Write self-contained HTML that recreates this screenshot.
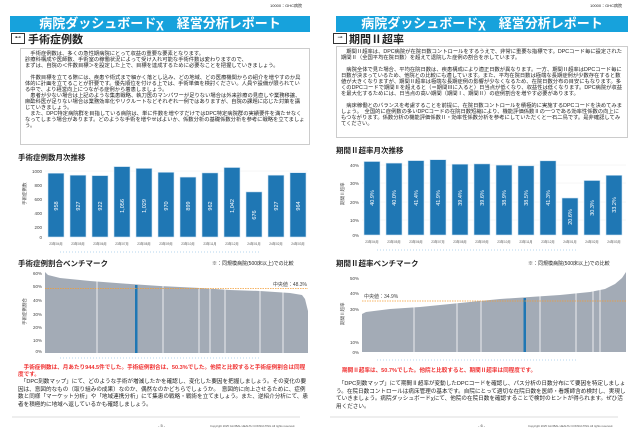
<!DOCTYPE html>
<html><head><meta charset="utf-8"><style>
body{margin:0;width:640px;height:437px;background:#fff;position:relative;overflow:hidden;font-family:"Liberation Sans","Noto Sans CJK JP",sans-serif;color:#222}
.a{position:absolute;white-space:nowrap}
.hdr{position:absolute;height:16px;background:#17a2dc;color:#fff;font-size:13px;font-weight:bold;text-align:center;line-height:16px}
.box{position:absolute;border:1px solid #ccc;font-size:5.3px;line-height:6px;padding:2px 4px;box-sizing:border-box;white-space:normal}
.tt{position:absolute;font-size:7.5px;font-weight:bold;white-space:nowrap}
.st{position:absolute;font-size:11px;font-weight:bold;white-space:nowrap}
.p{position:absolute;font-size:5.6px;line-height:8px;white-space:normal}
</style></head><body>
<div class="a" style="left:270px;top:3px;font-size:4px">10000：GHC病院</div>
<div class="a" style="left:590px;top:3px;font-size:4px">10000：GHC病院</div>
<div class="hdr" style="left:10px;top:16px;width:300px">病院ダッシュボードχ　経営分析レポート</div>
<div class="hdr" style="left:336px;top:16px;width:292px">病院ダッシュボードχ　経営分析レポート</div>
<div class="a" style="left:11px;top:33px;width:12px;height:9px;border:1px solid #333;font-size:6px;text-align:center;line-height:9px">⊷</div>
<div class="st" style="left:28px;top:31px">手術症例数</div>
<div class="a" style="left:333px;top:33px;width:12px;height:9px;border:1px solid #333;font-size:6px;text-align:center;line-height:9px">⊸</div>
<div class="st" style="left:349px;top:31px">期間Ⅱ超率</div>
<div class="box" style="left:20px;top:48px;width:290px;height:97px">　手術症例数は、多くの急性期病院にとって収益の重要な要素となります。<br>診療科構成や医師数、手術室の稼働状況によって受け入れ可能な手術件数は変わりますので、<br>まずは、自院の＜件数目標＞を設定した上で、目標を達成するために必要なことを把握していきましょう。<br><br>　件数目標を立てる際には、疾患や術式まで細かく落とし込み、どの地域、どの医療機関からの紹介を増やすのか具体的に計画を立てることが肝要です。優先順位を付ける上では、手術単価を検討ください。人員や設備が限られている中で、より経営向上につながる症例から着患しましょう。<br>　患者が少ない場合は上記のような集患戦略、執刀医のマンパワーが足りない場合は外来診療の見直しや業務移譲、麻酔科医が足りない場合は業務効率化やリクルートなどそれぞれ一例ではありますが、自院の課題に応じた対策を講じていきましょう。<br>　また、DPC特定病院群を目指している病院は、単に件数を増やすだけではDPC特定病院群の実績要件を満たせなくなってしまう場合があります。どのような手術を増やせばよいか、係数分析の基礎係数分析を参考に戦略を立てましょう。</div>
<div class="box" style="left:336px;top:46px;width:292px;height:92px">　期間Ⅱ超率は、DPC病院が在院日数コントロールをするうえで、非常に重要な指標です。DPCコード毎に設定された期間Ⅱ（全国平均在院日数）を超えて退院した症例の割合を示しています。<br><br>　病院全体で見た場合、平均在院日数は、疾患構成により適正日数が異なります。一方、期間Ⅱ超率はDPCコード毎に日数が決まっているため、他院との比較にも適しています。また、平均在院日数は極端な長期症例が少数存在すると数値が大きくなりますが、期間Ⅱ超率は極端な長期症例の影響が少なくなるため、在院日数分布の目安にもなります。多くのDPCコードで期間Ⅱを超えると（＝期間Ⅲに入ると）日当点が低くなり、収益性は低くなります。DPC病院が収益を最大化するためには、日当点の高い期間（期間Ⅰ、期間Ⅱ）の症例割合を増やす必要があります。<br><br>　病床稼働とのバランスを考慮することを前提に、在院日数コントロールを積極的に実施するDPCコードを決めてみましょう。　全国的に症例数の多いDPCコードの在院日数短縮により、機能評価係数Ⅱの一つである効率性係数の向上にもつながります。係数分析の機能評価係数Ⅱ・効率性係数分析を参考にしていただくと一石二鳥です。是非確認してみてください。</div>
<div class="tt" style="left:18px;top:152px">手術症例数月次推移</div>
<div class="tt" style="left:336px;top:145px">期間Ⅱ超率月次推移</div>
<div class="tt" style="left:18px;top:258px">手術症例割合ベンチマーク</div>
<div class="tt" style="left:336px;top:258px">期間Ⅱ超率ベンチマーク</div>
<div class="a" style="left:212px;top:260px;font-size:5px">※：同規模病院(500床以上)での比較</div>
<div class="a" style="left:528px;top:260px;font-size:5px">※：同規模病院(500床以上)での比較</div>
<svg class="a" style="left:0;top:0" width="640" height="437" font-family="Liberation Sans, Noto Sans CJK JP, sans-serif">
<g font-size="4.5" fill="#444" text-anchor="end">
<text x="42" y="173">1000</text><text x="42" y="187">800</text><text x="42" y="201">600</text><text x="42" y="215">400</text><text x="42" y="229">200</text><text x="42" y="239">0</text>
<text x="359" y="167">40%</text><text x="359" y="185">30%</text><text x="359" y="204">20%</text><text x="359" y="222">10%</text><text x="359" y="237">0%</text>
</g>
<g stroke="#eee" stroke-width="0.5"><line x1="45" x2="308" y1="171" y2="171"/><line x1="362" x2="626" y1="165" y2="165"/><line x1="362" x2="626" y1="183" y2="183"/><line x1="362" x2="626" y1="202" y2="202"/><line x1="362" x2="626" y1="220" y2="220"/></g>
<text x="26" y="205" font-size="4.5" fill="#444" transform="rotate(-90 26 205)">手術症例数</text>
<text x="344" y="205" font-size="4.5" fill="#444" transform="rotate(-90 344 205)">期間Ⅱ超率</text>
<g fill="#1f77b4" stroke="#cfe3f2" stroke-width="0.6">
<rect x="48" y="173.2" width="16" height="63.8"/><rect x="70" y="175.2" width="16" height="61.8"/><rect x="92" y="175.6" width="16" height="61.4"/><rect x="114" y="166.6" width="16" height="70.4"/><rect x="136" y="168.4" width="16" height="68.6"/><rect x="158" y="172.3" width="16" height="64.7"/><rect x="180" y="177.1" width="16" height="59.9"/><rect x="202" y="172.9" width="16" height="64.1"/><rect x="224" y="167.5" width="16" height="69.5"/><rect x="246" y="191.9" width="16" height="45.1"/><rect x="268" y="175.2" width="16" height="61.8"/><rect x="290" y="172.7" width="16" height="64.3"/>
</g>
<g fill="#1f77b4" stroke="#cfe3f2" stroke-width="0.6">
<rect x="364" y="161.5" width="16" height="73.5"/><rect x="386" y="163.1" width="16" height="71.9"/><rect x="408" y="160.6" width="16" height="74.4"/><rect x="430" y="159.7" width="16" height="75.3"/><rect x="452" y="164.2" width="16" height="70.8"/><rect x="474" y="163.9" width="16" height="71.1"/><rect x="496" y="165.1" width="16" height="69.9"/><rect x="518" y="165.8" width="16" height="69.2"/><rect x="540" y="160.8" width="16" height="74.2"/><rect x="562" y="198" width="16" height="37"/><rect x="584" y="180.5" width="16" height="54.5"/><rect x="606" y="175.3" width="16" height="59.7"/>
</g>
<g font-size="5.5" fill="#fff" text-anchor="middle">
<text transform="translate(58,206) rotate(-90)">958</text><text transform="translate(80,206) rotate(-90)">927</text><text transform="translate(102,206) rotate(-90)">922</text><text transform="translate(124,206) rotate(-90)">1,056</text><text transform="translate(146,206) rotate(-90)">1,029</text><text transform="translate(168,206) rotate(-90)">970</text><text transform="translate(190,206) rotate(-90)">899</text><text transform="translate(212,206) rotate(-90)">962</text><text transform="translate(234,206) rotate(-90)">1,042</text><text transform="translate(256,215) rotate(-90)">676</text><text transform="translate(278,206) rotate(-90)">927</text><text transform="translate(300,206) rotate(-90)">964</text>
<text transform="translate(374,198) rotate(-90)">40.9%</text><text transform="translate(396,198) rotate(-90)">40.0%</text><text transform="translate(418,198) rotate(-90)">41.4%</text><text transform="translate(440,198) rotate(-90)">41.9%</text><text transform="translate(462,198) rotate(-90)">39.4%</text><text transform="translate(484,198) rotate(-90)">39.6%</text><text transform="translate(506,198) rotate(-90)">38.9%</text><text transform="translate(528,198) rotate(-90)">38.5%</text><text transform="translate(550,198) rotate(-90)">41.3%</text><text transform="translate(572,217) rotate(-90)">20.6%</text><text transform="translate(594,208) rotate(-90)">30.3%</text><text transform="translate(616,205) rotate(-90)">33.2%</text>
</g>
<g font-size="3.2" fill="#555" text-anchor="middle">
<text x="56" y="245">23年04月</text><text x="78" y="245">23年05月</text><text x="100" y="245">23年06月</text><text x="122" y="245">23年07月</text><text x="144" y="245">23年08月</text><text x="166" y="245">23年09月</text><text x="188" y="245">23年10月</text><text x="210" y="245">23年11月</text><text x="232" y="245">23年12月</text><text x="254" y="245">24年01月</text><text x="276" y="245">24年02月</text><text x="298" y="245">24年03月</text>
<text x="372" y="243">23年04月</text><text x="394" y="243">23年05月</text><text x="416" y="243">23年06月</text><text x="438" y="243">23年07月</text><text x="460" y="243">23年08月</text><text x="482" y="243">23年09月</text><text x="504" y="243">23年10月</text><text x="526" y="243">23年11月</text><text x="548" y="243">23年12月</text><text x="570" y="243">24年01月</text><text x="592" y="243">24年02月</text><text x="614" y="243">24年03月</text>
</g>
<g stroke="#9cc9e8" stroke-width="0.8" stroke-dasharray="1 2"><line x1="60" x2="260" y1="252" y2="252"/><line x1="377" x2="578" y1="250" y2="250"/><line x1="60" x2="260" y1="358" y2="358"/><line x1="377" x2="578" y1="360" y2="360"/></g>
<g font-size="4.5" fill="#444" text-anchor="end">
<text x="42" y="275">60%</text><text x="42" y="288">50%</text><text x="42" y="302">40%</text><text x="42" y="316">30%</text><text x="42" y="329">20%</text><text x="42" y="342">10%</text><text x="42" y="353">0%</text>
<text x="359" y="280">50%</text><text x="359" y="295">40%</text><text x="359" y="311">30%</text><text x="359" y="344">10%</text><text x="359" y="354">0%</text>
</g>
<text x="26" y="325" font-size="4.5" fill="#444" transform="rotate(-90 26 325)">手術症例割合</text>
<text x="344" y="325" font-size="4.5" fill="#444" transform="rotate(-90 344 325)">期間Ⅱ超率</text>
<path d="M45 353 L45 272 L48 275 L60 278 L90 281 L130 284 L160 286 L200 288 L230 290 L260 291 L290 293 L302 295 L305 299 L308 311 L308 353 Z" fill="#a3abb6"/>
<g stroke="#fff" stroke-width="0.8"><line x1="97" x2="97" y1="270" y2="353"/><line x1="163" x2="163" y1="270" y2="353"/><line x1="199" x2="199" y1="270" y2="353"/><line x1="210" x2="210" y1="270" y2="353"/><line x1="225" x2="225" y1="270" y2="353"/><line x1="260" x2="260" y1="270" y2="353"/><line x1="283" x2="283" y1="270" y2="353"/></g>
<rect x="135" y="285" width="2.5" height="68" fill="#1f77b4"/>
<line x1="45" x2="308" y1="288.6" y2="288.6" stroke="#f39c34" stroke-width="0.7" stroke-dasharray="1.5 1"/>
<text x="307" y="286" font-size="5" fill="#444" text-anchor="end">中央値：48.3%</text>
<path d="M362 352 L362 314 L366 312 L390 309 L420 307 L450 304 L470 302 L500 299 L530 297 L560 295 L590 292 L605 289 L615 284 L622 278 L626 272 L626 352 Z" fill="#a3abb6"/>
<g stroke="#fff" stroke-width="0.8"><line x1="414" x2="414" y1="290" y2="352"/><line x1="457" x2="457" y1="290" y2="352"/><line x1="481" x2="481" y1="290" y2="352"/><line x1="540" x2="540" y1="290" y2="352"/><line x1="576" x2="576" y1="270" y2="352"/><line x1="593" x2="593" y1="270" y2="352"/><line x1="600" x2="600" y1="270" y2="352"/></g>
<rect x="523.5" y="298" width="2.5" height="54" fill="#1f77b4"/>
<line x1="362" x2="626" y1="301" y2="301" stroke="#f39c34" stroke-width="0.7" stroke-dasharray="1.5 1"/>
<text x="364" y="298" font-size="5" fill="#444">中央値：34.9%</text>
<g stroke="#ddd" stroke-width="1"><line x1="12" x2="300" y1="417" y2="417"/><line x1="330" x2="618" y1="417" y2="417"/></g>
<g font-size="4" fill="#444"><text x="158" y="427">- 5 -</text><text x="478" y="427">- 6 -</text></g>
<g font-size="2.8" fill="#555"><text x="210" y="427">Copyright 2025 GLOBAL HEALTH CONSULTING All rights reserved.</text><text x="528" y="427">Copyright 2025 GLOBAL HEALTH CONSULTING All rights reserved.</text></g>
</svg>
<div class="p" style="left:18px;top:365px;width:290px;color:#f03030;font-weight:bold;line-height:7px">　手術症例数は、月あたり944.5件でした。手術症例割合は、50.3%でした。他院と比較すると手術症例割合は同程度です。</div>
<div class="p" style="left:18px;top:379px;width:290px;line-height:7.5px">　「DPC刻数マップ」にて、どのような手術が増減したかを確認し、変化した要因を把握しましょう。その変化の要因は、意図的なもの（取り組みの成果）なのか、偶然なのかどちらでしょうか。　意図的に向上させるために、症例数と同様「マーケット分析」や「地域連携分析」にて集患の戦略・戦術を立てましょう。また、逆紹介分析にて、患者を積極的に地域へ返しているかも確認しましょう。</div>
<div class="p" style="left:342px;top:367px;width:286px;color:#f03030;font-weight:bold">期間Ⅱ超率は、50.7%でした。他院と比較すると、期間Ⅱ超率は同程度です。</div>
<div class="p" style="left:336px;top:381px;width:292px;line-height:7.5px">　「DPC刻数マップ」にて期間Ⅱ超率が変動したDPCコードを確認し、パス分析の日数分布にて要因を特定しましょう。在院日数コントロールは病床管理の基本です。自院にとって適切な在院日数を医師・看護師含め検討し、実現していきましょう。病院ダッシュボードχにて、他院の在院日数を確認することで検討のヒントが得られます。ぜひ活用ください。</div>
</body></html>
